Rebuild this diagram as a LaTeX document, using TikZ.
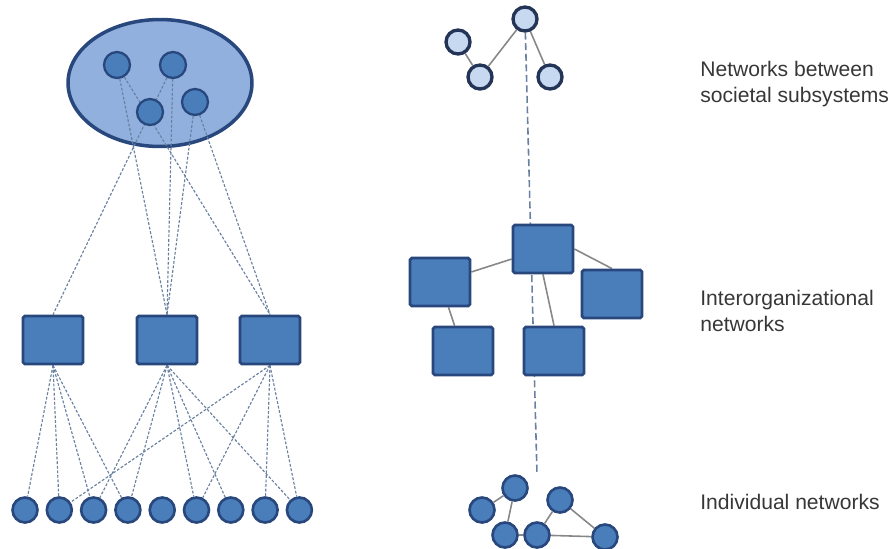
\documentclass[tikz,border=0pt]{standalone}
\usepackage{fontspec}
\setmainfont{Liberation Sans}
\usetikzlibrary{shapes.geometric}

\pgfdeclarelayer{bg}
\pgfdeclarelayer{edges}
\pgfsetlayers{bg,edges,main}

\definecolor{midblue}{RGB}{74,126,187}
\definecolor{darkblue}{RGB}{40,72,125}
\definecolor{paleblue}{RGB}{145,176,222}
\definecolor{iceblue}{RGB}{198,217,241}
\definecolor{navy}{RGB}{36,52,86}
\definecolor{dashgray}{RGB}{105,128,160}
\definecolor{linegray}{RGB}{135,135,135}
\definecolor{textgray}{RGB}{55,55,55}

\begin{document}
\begin{tikzpicture}[x=0.02cm, y=-0.02cm,
  every node/.style={font=\fontsize{12}{15.3}\selectfont, text=textgray},
  member/.style={circle, fill=midblue, draw=darkblue, line width=1.3pt, minimum size=0.52cm, inner sep=0pt},
  person/.style={circle, fill=midblue, draw=darkblue, line width=1.5pt, minimum size=0.5cm, inner sep=0pt},
  system/.style={circle, fill=iceblue, draw=navy, line width=1.9pt, minimum size=0.48cm, inner sep=0pt},
  org/.style={rectangle, rounded corners=1pt, fill=midblue, draw=darkblue, line width=1.6pt,
              minimum width=1.2cm, minimum height=0.96cm, inner sep=0pt},
  tie/.style={dashgray, line width=0.65pt, dash pattern=on 1.6pt off 1pt},
  link/.style={linegray, line width=0.9pt},
  lbl/.style={anchor=west, align=left, inner sep=0pt}]
  \useasboundingbox (0,0) rectangle (891,548);

  % Left: society with subsystems
  \begin{pgfonlayer}{bg}
    \node[ellipse, fill=paleblue, draw=darkblue, line width=2pt,
          minimum width=3.68cm, minimum height=2.54cm] (soc) at (160,83) {};
  \end{pgfonlayer}
  \node[member] (m1) at (117,65)  {};
  \node[member] (m2) at (173,65)  {};
  \node[member] (m3) at (150,112) {};
  \node[member] (m4) at (195,102) {};

  % Left: organisations
  \node[org] (o1) at (53,340)  {};
  \node[org] (o2) at (167,340) {};
  \node[org] (o3) at (270,340) {};

  % Left: individuals
  \foreach \i in {1,...,9}
    \node[person] (p\i) at ({25+34.3*(\i-1)},510) {};

  \begin{pgfonlayer}{edges}
    \draw[tie] (m2) -- (o1.north);
    \draw[tie] (m1) -- (o2.north);
    \draw[tie] (m2) -- (o2.north);
    \draw[tie] (m4) -- (o2.north);
    \draw[tie] (m1) -- (o3.north);
    \draw[tie] (m4) -- (o3.north);
    \foreach \p in {1,2,3,4}
      \draw[tie] (o1.south) -- (p\p);
    \foreach \p in {3,4,6,7,9}
      \draw[tie] (o2.south) -- (p\p);
    \foreach \p in {2,6,8,9}
      \draw[tie] (o3.south) -- (p\p);
  \end{pgfonlayer}

  % Right: societal subsystems
  \node[system] (s1) at (458,42) {};
  \node[system] (s2) at (480,77) {};
  \node[system] (s3) at (525,19) {};
  \node[system] (s4) at (550,77) {};
  \coordinate (vend) at (537,475);

  % Right: organisations
  \node[org] (t)  at (543,249) {};
  \node[org] (l)  at (440,282) {};
  \node[org] (r)  at (612,294) {};
  \node[org] (bl) at (463,351) {};
  \node[org] (bm) at (554,351) {};

  % Right: individuals
  \node[person] (n1) at (482,510) {};
  \node[person] (n2) at (515,488) {};
  \node[person] (n3) at (505,535) {};
  \node[person] (n4) at (537,535) {};
  \node[person] (n5) at (560,500) {};
  \node[person] (n6) at (605,537) {};

  \begin{pgfonlayer}{edges}
    \draw[link] (s1) -- (s2);
    \draw[link] (s2) -- (s3);
    \draw[link] (s3) -- (s4);
    \draw[dashgray, line width=0.9pt, dash pattern=on 4pt off 2pt] (s3) -- (vend);
    \draw[link] (t) -- (l);
    \draw[link] (t.east) -- (r.north);
    \draw[link] (l) -- (bl);
    \draw[link] (t.south) -- (bm.north);
    \draw[link] (n1) -- (n2);
    \draw[link] (n2) -- (n3);
    \draw[link] (n3) -- (n4);
    \draw[link] (n4) -- (n5);
    \draw[link] (n5) -- (n6);
    \draw[link] (n4) -- (n6);
  \end{pgfonlayer}

  % Labels
  \node[lbl] (lab1) at (700,84)  {Networks between\\societal subsystems};
  \node[lbl] (lab2) at (700,311) {Interorganizational\\networks};
  \node[lbl] (lab3) at (700,502) {Individual networks};
\end{tikzpicture}
\end{document}
